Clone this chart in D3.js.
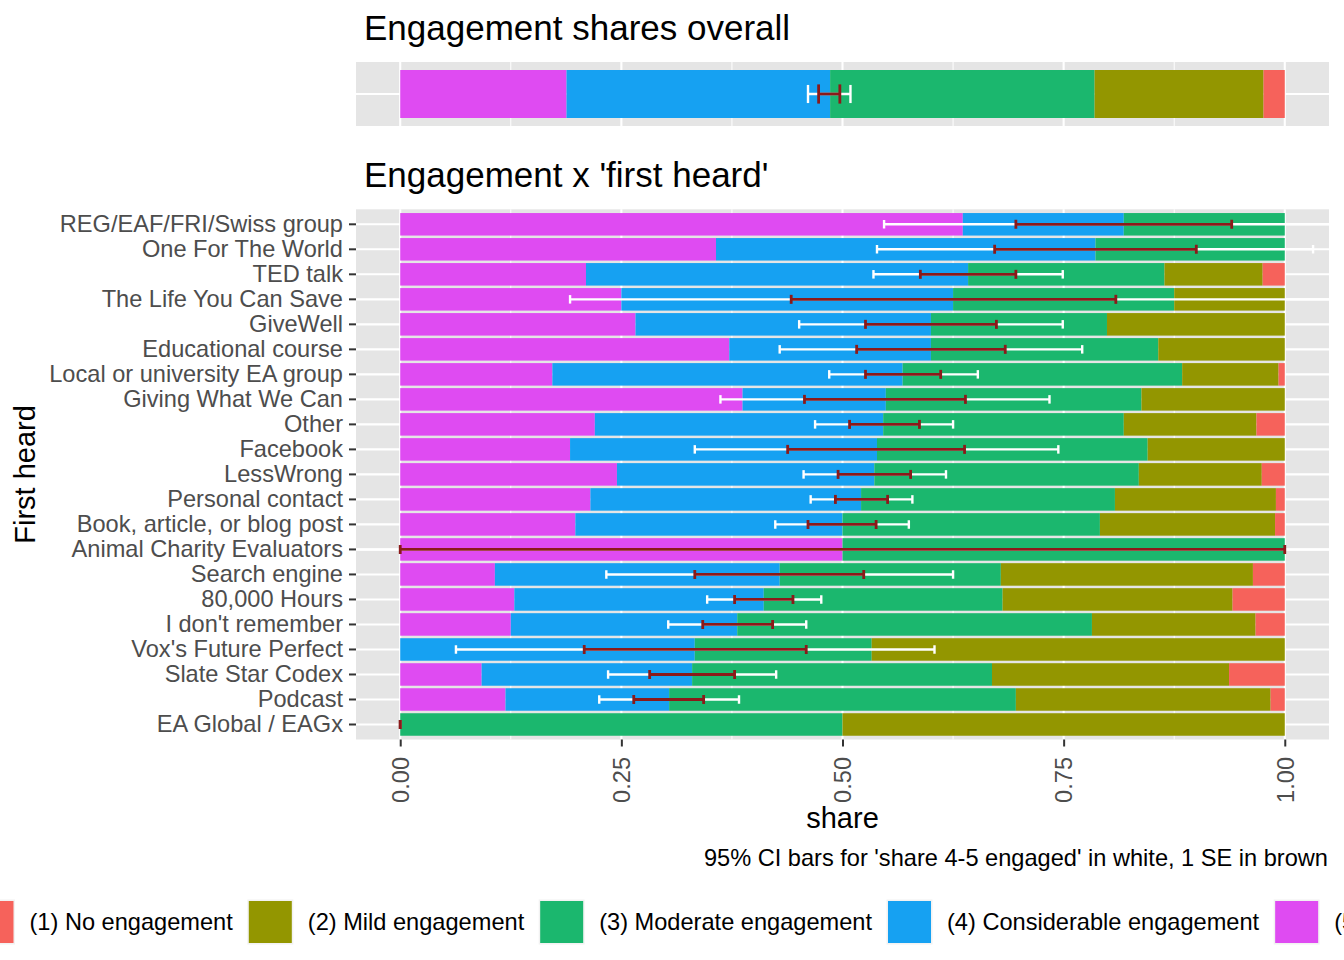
<!DOCTYPE html>
<html>
<head>
<meta charset="utf-8">
<script src="https://cdn.jsdelivr.net/npm/d3@7"></script>
<style>
  body { margin: 0; background: #fff; }
  text { font-family: "Liberation Sans", Arial, Helvetica, sans-serif; }
</style>
</head>
<body>
<div id="chart"></div>
<script>
/* ---------- Data ---------- */
const sources = [
  "REG/EAF/FRI/Swiss group", "One For The World", "TED talk", "The Life You Can Save",
  "GiveWell", "Educational course", "Local or university EA group", "Giving What We Can",
  "Other", "Facebook", "LessWrong", "Personal contact", "Book, article, or blog post",
  "Animal Charity Evaluators", "Search engine", "80,000 Hours", "I don't remember",
  "Vox's Future Perfect", "Slate Star Codex", "Podcast", "EA Global / EAGx"
];

// shares per engagement level, one value per source
const shareHigh         = [0.636, 0.357, 0.210, 0.250, 0.266, 0.372, 0.172, 0.387, 0.220, 0.192, 0.245, 0.215, 0.198, 0.500, 0.107, 0.129, 0.125, 0.000, 0.092, 0.119, 0.000];
const shareConsiderable = [0.182, 0.429, 0.432, 0.375, 0.334, 0.228, 0.396, 0.162, 0.326, 0.347, 0.291, 0.306, 0.302, 0.000, 0.322, 0.282, 0.256, 0.333, 0.238, 0.185, 0.000];
const shareModerate     = [0.182, 0.214, 0.222, 0.250, 0.199, 0.257, 0.316, 0.289, 0.272, 0.306, 0.299, 0.287, 0.291, 0.500, 0.250, 0.270, 0.401, 0.200, 0.339, 0.392, 0.500];
const shareMild         = [0.000, 0.000, 0.111, 0.125, 0.201, 0.143, 0.109, 0.162, 0.150, 0.155, 0.139, 0.182, 0.198, 0.000, 0.285, 0.260, 0.185, 0.467, 0.268, 0.288, 0.500];
const shareNone         = [0.000, 0.000, 0.025, 0.000, 0.000, 0.000, 0.007, 0.000, 0.032, 0.000, 0.026, 0.010, 0.011, 0.000, 0.036, 0.059, 0.033, 0.000, 0.063, 0.016, 0.000];

// intervals for 'share 4-5 engaged'
const ciLow  = [0.547, 0.539, 0.535, 0.192, 0.451, 0.429, 0.485, 0.362, 0.469, 0.333, 0.456, 0.464, 0.424, -0.480, 0.233, 0.347, 0.303, 0.063, 0.235, 0.225, 0.000];
const ciHigh = [1.089, 1.032, 0.749, 1.058, 0.749, 0.771, 0.653, 0.734, 0.625, 0.744, 0.617, 0.579, 0.575, 1.480, 0.625, 0.476, 0.459, 0.604, 0.425, 0.383, 0.000];
const seLow  = [0.696, 0.672, 0.588, 0.442, 0.526, 0.516, 0.526, 0.457, 0.508, 0.438, 0.495, 0.492, 0.461, 0.000, 0.333, 0.378, 0.342, 0.208, 0.282, 0.264, 0.000];
const seHigh = [0.940, 0.900, 0.696, 0.809, 0.674, 0.684, 0.611, 0.639, 0.587, 0.638, 0.577, 0.551, 0.538, 1.000, 0.524, 0.444, 0.421, 0.459, 0.378, 0.343, 0.000];

// overall shares: high, considerable, moderate, mild, none
const overallShares = [0.188, 0.298, 0.299, 0.191, 0.024];
const overallCi = [0.461, 0.509];
const overallSe = [0.473, 0.497];

const levelLabels = [
  "(1) No engagement", "(2) Mild engagement", "(3) Moderate engagement",
  "(4) Considerable engagement", "(5) High engagement"
];
const levelColors = ["#F6625B", "#939600", "#1BB76E", "#16A1F2", "#DF4BF2"];

const xTicks = [0, 0.25, 0.5, 0.75, 1];
const xMinorTicks = [0.125, 0.375, 0.625, 0.875];

/* ---------- Setup ---------- */
const width = 1344;
const height = 960;
const panelLeft = 356;
const panelRight = 1329;
const topPanel = { top: 62, bottom: 126 };
const mainPanel = { top: 209.3, bottom: 739.5 };

const axisTextSize = "23.6px";
const greyText = "#4D4D4D";
const panelBg = "#E5E5E5";
const seColor = "#8B1A1A";

const svg = d3
  .select("#chart")
  .append("svg")
  .attr("width", width)
  .attr("height", height)
  .attr("viewBox", `0 0 ${width} ${height}`);

const keys = ["l5", "l4", "l3", "l2", "l1"];
const keyColor = d3
  .scaleOrdinal()
  .domain(keys)
  .range([levelColors[4], levelColors[3], levelColors[2], levelColors[1], levelColors[0]]);

const stack = d3.stack().keys(keys);

const x = d3.scaleLinear().domain([-0.05, 1.05]).range([panelLeft, panelRight]);

const tableMain = sources.map((s, i) => ({
  source: s,
  l5: shareHigh[i],
  l4: shareConsiderable[i],
  l3: shareModerate[i],
  l2: shareMild[i],
  l1: shareNone[i],
  ciLo: ciLow[i],
  ciHi: ciHigh[i],
  seLo: seLow[i],
  seHi: seHigh[i],
}));

const tableTop = [{
  source: "all",
  l5: overallShares[0],
  l4: overallShares[1],
  l3: overallShares[2],
  l2: overallShares[3],
  l1: overallShares[4],
  ciLo: overallCi[0],
  ciHi: overallCi[1],
  seLo: overallSe[0],
  seHi: overallSe[1],
}];

/* ---------- Panel drawing ---------- */
function drawPanel(id, rows, y) {
  const g = svg.append("g").attr("class", "panel-" + id);

  g.append("clipPath")
    .attr("id", "clip-" + id)
    .append("rect")
    .attr("x", panelLeft)
    .attr("y", y.range()[0])
    .attr("width", panelRight - panelLeft)
    .attr("height", y.range()[1] - y.range()[0]);

  g.append("rect")
    .attr("x", panelLeft)
    .attr("y", y.range()[0])
    .attr("width", panelRight - panelLeft)
    .attr("height", y.range()[1] - y.range()[0])
    .attr("fill", panelBg);

  // grid
  g.selectAll(".minor-x")
    .data(xMinorTicks)
    .enter()
    .append("line")
    .attr("x1", (d) => x(d))
    .attr("x2", (d) => x(d))
    .attr("y1", y.range()[0])
    .attr("y2", y.range()[1])
    .attr("stroke", "#fff")
    .attr("stroke-width", 1);

  g.selectAll(".major-x")
    .data(xTicks)
    .enter()
    .append("line")
    .attr("x1", (d) => x(d))
    .attr("x2", (d) => x(d))
    .attr("y1", y.range()[0])
    .attr("y2", y.range()[1])
    .attr("stroke", "#fff")
    .attr("stroke-width", 2.1);

  g.selectAll(".major-y")
    .data(rows)
    .enter()
    .append("line")
    .attr("x1", panelLeft)
    .attr("x2", panelRight)
    .attr("y1", (d) => y(d.source) + y.bandwidth() / 2)
    .attr("y2", (d) => y(d.source) + y.bandwidth() / 2)
    .attr("stroke", "#fff")
    .attr("stroke-width", 2.1);

  // stacked bars
  const series = stack(rows);
  g.selectAll(".layer")
    .data(series)
    .enter()
    .append("g")
    .attr("fill", (d) => keyColor(d.key))
    .selectAll("rect")
    .data((d) => d)
    .enter()
    .append("rect")
    .attr("x", (d) => x(d[0]))
    .attr("width", (d) => Math.max(0, x(d[1]) - x(d[0])))
    .attr("y", (d) => y(d.data.source))
    .attr("height", y.bandwidth());

  // error bars, white CI first then brown SE on top
  const bars = g.append("g").attr("clip-path", `url(#clip-${id})`);
  const step = y.step();

  function errorbar(lo, hi, color, lw, cap) {
    const eb = bars.append("g").attr("stroke", color).attr("stroke-width", lw).attr("fill", "none");
    rows.forEach((d) => {
      const cy = y(d.source) + y.bandwidth() / 2;
      eb.append("line")
        .attr("x1", x(d[lo])).attr("x2", x(d[hi]))
        .attr("y1", cy).attr("y2", cy);
      [d[lo], d[hi]].forEach((v) => {
        eb.append("line")
          .attr("x1", x(v)).attr("x2", x(v))
          .attr("y1", cy - (cap * step) / 2)
          .attr("y2", cy + (cap * step) / 2);
      });
    });
  }

  errorbar("ciLo", "ciHi", "#fff", 2.4, 0.34);
  errorbar("seLo", "seHi", seColor, 2.8, 0.36);

  return g;
}

const yTop = d3
  .scaleBand()
  .domain(tableTop.map((d) => d.source))
  .range([topPanel.top, topPanel.bottom])
  .paddingInner(0.1)
  .paddingOuter(0.15);

const yMain = d3
  .scaleBand()
  .domain(sources)
  .range([mainPanel.top, mainPanel.bottom])
  .paddingInner(0.1)
  .paddingOuter(0.15);

drawPanel("top", tableTop, yTop);
drawPanel("main", tableMain, yMain);

/* ---------- Axes ---------- */
const yAxis = svg
  .append("g")
  .attr("transform", `translate(${panelLeft},0)`)
  .call(d3.axisLeft(yMain).tickSize(7).tickPadding(6));

const xAxis = svg
  .append("g")
  .attr("transform", `translate(0,${mainPanel.bottom})`)
  .call(d3.axisBottom(x).tickValues(xTicks).tickFormat(d3.format(".2f")).tickSize(7));

[yAxis, xAxis].forEach((a) => {
  a.select(".domain").remove();
  a.selectAll(".tick line").attr("stroke", "#333").attr("stroke-width", 2);
  a.selectAll(".tick text")
    .attr("fill", greyText)
    .style("font-size", axisTextSize)
    .style("font-family", '"Liberation Sans", Arial, sans-serif');
});

xAxis
  .selectAll(".tick text")
  .attr("transform", "rotate(-90)")
  .attr("x", -17.5)
  .attr("y", 0)
  .attr("dy", "0.35em")
  .attr("text-anchor", "end");

/* ---------- Titles and labels ---------- */
svg.append("text")
  .attr("x", 364)
  .attr("y", 40)
  .attr("font-size", "35px")
  .attr("fill", "#000")
  .text("Engagement shares overall");

svg.append("text")
  .attr("x", 364)
  .attr("y", 187)
  .attr("font-size", "35px")
  .attr("fill", "#000")
  .text("Engagement x 'first heard'");

svg.append("text")
  .attr("x", (panelLeft + panelRight) / 2)
  .attr("y", 828)
  .attr("text-anchor", "middle")
  .attr("font-size", "29px")
  .attr("fill", "#000")
  .text("share");

svg.append("text")
  .attr("transform", `translate(35,${(mainPanel.top + mainPanel.bottom) / 2}) rotate(-90)`)
  .attr("text-anchor", "middle")
  .attr("font-size", "29px")
  .attr("fill", "#000")
  .text("First heard");

svg.append("text")
  .attr("x", 1328)
  .attr("y", 866)
  .attr("text-anchor", "end")
  .attr("font-size", axisTextSize)
  .attr("fill", "#000")
  .text("95% CI bars for 'share 4-5 engaged' in white, 1 SE in brown");

/* ---------- Legend ---------- */
const legend = svg.append("g").attr("class", "legend");
let cursor = -29.5;
levelLabels.forEach((label, i) => {
  legend.append("rect")
    .attr("x", cursor - 1.5)
    .attr("y", 899.5)
    .attr("width", 46)
    .attr("height", 45)
    .attr("fill", "#F2F2F2");
  legend.append("rect")
    .attr("x", cursor)
    .attr("y", 901)
    .attr("width", 43)
    .attr("height", 42)
    .attr("fill", levelColors[i]);
  const t = legend.append("text")
    .attr("x", cursor + 43 + 16)
    .attr("y", 922)
    .attr("dy", "0.35em")
    .attr("font-size", axisTextSize)
    .attr("fill", "#000")
    .text(label);
  cursor = cursor + 43 + 16 + t.node().getComputedTextLength() + 16;
});
</script>
</body>
</html>
